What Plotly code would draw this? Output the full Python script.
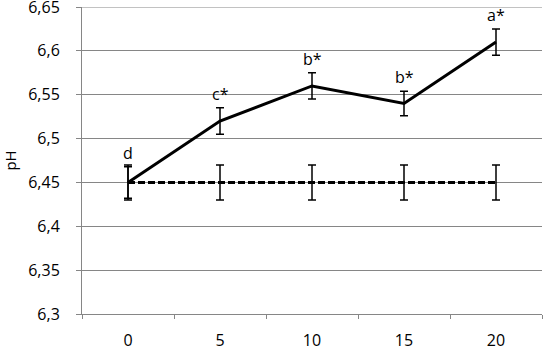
import plotly.graph_objects as go

categories = ["0", "5", "10", "15", "20"]
treated = [6.45, 6.52, 6.56, 6.54, 6.61]
treated_err = [0.018, 0.015, 0.015, 0.014, 0.015]
control = [6.45, 6.45, 6.45, 6.45, 6.45]
control_err = [0.02, 0.02, 0.02, 0.02, 0.02]
letters = ["d", "c*", "b*", "b*", "a*"]
y_ticks = [6.3, 6.35, 6.4, 6.45, 6.5, 6.55, 6.6, 6.65]

FONT = "Open Sans"

fig = go.Figure()
fig.add_trace(go.Scatter(
    x=categories, y=control, mode="lines",
    line=dict(color="black", width=3, dash="7px,3px"),
    error_y=dict(type="data", array=control_err, color="black", thickness=1.5, width=4),
    showlegend=False, hoverinfo="skip",
))
fig.add_trace(go.Scatter(
    x=categories, y=treated, mode="lines",
    line=dict(color="black", width=3),
    error_y=dict(type="data", array=treated_err, color="black", thickness=1.5, width=4),
    showlegend=False, hoverinfo="skip",
))

for i, (v, e, t) in enumerate(zip(treated, treated_err, letters)):
    fig.add_annotation(x=i, y=v + e, text=t, showarrow=False, yanchor="bottom",
                       yshift=1, font=dict(family=FONT, size=16, color="black"))

# top gridline (plotly skips it at the range edge)
fig.add_shape(type="line", xref="paper", x0=0, x1=1, yref="y", y0=y_ticks[-1], y1=y_ticks[-1],
              line=dict(color="#868686", width=1), layer="below")

fig.update_layout(
    width=543, height=348,
    margin=dict(l=82, r=1, t=7, b=34),
    paper_bgcolor="white", plot_bgcolor="white",
    separators=", ",
    font=dict(family=FONT, size=16, color="black"),
)
fig.update_xaxes(
    type="category", categoryorder="array", categoryarray=categories,
    range=[-0.5, 4.5], autorange=False, automargin=False,
    showline=True, linecolor="#868686", linewidth=1,
    ticks="outside", tickson="boundaries", ticklen=4, tickcolor="#868686",
    showgrid=False, ticklabelstandoff=12, tickangle=0, ticklabeloverflow="allow",
    tickfont=dict(family=FONT, size=16, color="black"),
)
fig.update_yaxes(
    range=[6.3, 6.65], autorange=False, tickvals=y_ticks, automargin=False,
    showline=True, linecolor="#868686", linewidth=1,
    ticks="outside", ticklen=5, tickcolor="#868686",
    showgrid=True, gridcolor="#868686", gridwidth=1,
    zeroline=False, ticklabelstandoff=13, ticklabeloverflow="allow",
    title=dict(text="pH", standoff=14, font=dict(family=FONT, size=15, color="black")),
    tickfont=dict(family=FONT, size=16, color="black"),
)

fig.write_html("out.html", config={"displayModeBar": False},
               post_script="document.body.style.margin='0';")
